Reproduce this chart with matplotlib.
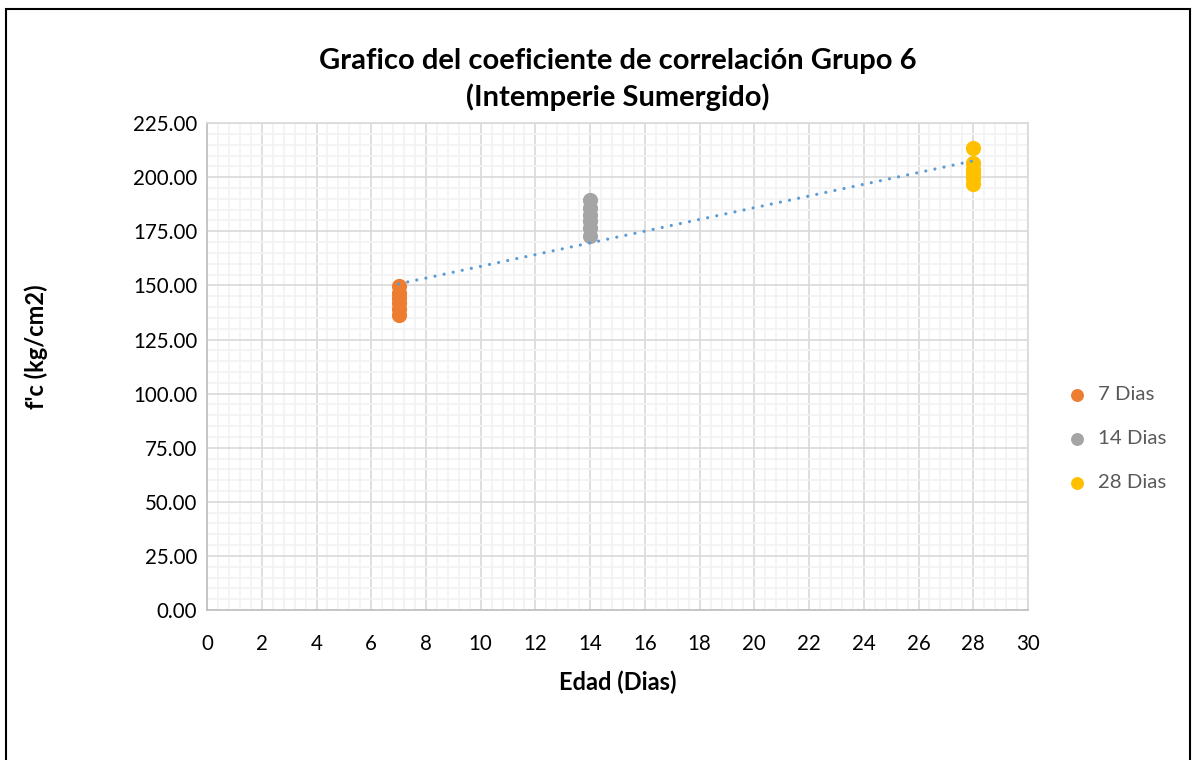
import numpy as np
import matplotlib.pyplot as plt
from matplotlib.patches import Rectangle
from matplotlib.ticker import MultipleLocator, FormatStrFormatter

plt.rcParams['font.family'] = ['Lato', 'DejaVu Sans']

# --- data ---
edad_7 = [7, 7, 7, 7, 7, 7]
fc_7 = [136.5, 139.2, 141.8, 144.0, 146.5, 149.8]
edad_14 = [14, 14, 14, 14, 14, 14]
fc_14 = [173.0, 176.5, 179.8, 182.6, 186.0, 189.5]
edad_28 = [28, 28, 28, 28, 28, 28]
fc_28 = [197.0, 199.5, 201.8, 204.0, 206.5, 213.5]
series_labels = ['7 Dias', '14 Dias', '28 Dias']
series_colors = ['#ed7d31', '#a5a5a5', '#ffc000']

fig = plt.figure(figsize=(11.92, 7.6), dpi=100)
ax = fig.add_axes([0.1737, 0.1974, 0.6887, 0.6406])

# outer chart border
fig.patches.append(Rectangle((0.005, -0.02), 0.9935, 1.008, transform=fig.transFigure,
                             fill=False, edgecolor='black', linewidth=1.5))

ax.set_xlim(0, 30)
ax.set_ylim(0, 225)
ax.xaxis.set_major_locator(MultipleLocator(2))
ax.xaxis.set_minor_locator(MultipleLocator(0.4))
ax.yaxis.set_major_locator(MultipleLocator(25))
ax.yaxis.set_minor_locator(MultipleLocator(5))
ax.yaxis.set_major_formatter(FormatStrFormatter('%.2f'))
ax.grid(which='minor', color='#f2f2f2', linewidth=1.2)
ax.grid(which='major', color='#d9d9d9', linewidth=1.2)
ax.set_axisbelow(True)
for s in ax.spines.values():
    s.set_color('#d9d9d9')
    s.set_linewidth(1.2)
ax.spines['left'].set_color('#bfbfbf')
ax.spines['bottom'].set_color('#bfbfbf')
ax.tick_params(which='both', length=0, labelsize=14.8, colors='#000000')
ax.tick_params(axis='x', pad=17)
ax.tick_params(axis='y', pad=7)

xs = [edad_7, edad_14, edad_28]
ys = [fc_7, fc_14, fc_28]
for x, y, lab, col in zip(xs, ys, series_labels, series_colors):
    ax.scatter(x, y, s=120, color=col, label=lab, zorder=3, linewidths=0)

# linear trend line over all points
all_x = np.concatenate(xs)
all_y = np.concatenate(ys)
m, b = np.polyfit(all_x, all_y, 1)
tx = np.array([all_x.min(), all_x.max()])
ax.plot(tx, m * tx + b, linestyle=(0, (0.01, 2.9)), color='#5b9bd5', linewidth=2.3,
        zorder=4, dash_capstyle='round')

ax.set_title('Grafico del coeficiente de correlación Grupo 6\n(Intemperie Sumergido)',
             fontsize=21, fontweight='bold', pad=12.5, linespacing=1.4)
ax.set_xlabel('Edad (Dias)', fontsize=17, fontweight='bold', labelpad=12)
ax.set_ylabel("f'c (kg/cm2)", fontsize=17, fontweight='bold')
ax.yaxis.set_label_coords(-0.194, 0.54)

leg = ax.legend(loc='center left', bbox_to_anchor=(1.012, 0.352), frameon=False,
                fontsize=14.7, handletextpad=0.05, labelspacing=1.32, markerscale=0.85,
                labelcolor='#595959')

fig.savefig('out.png', dpi=100)
